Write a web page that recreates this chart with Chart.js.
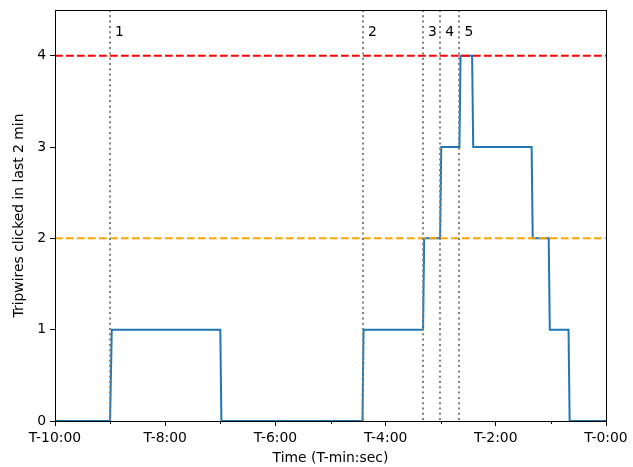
<!DOCTYPE html>
<html>
<head>
<meta charset="utf-8">
<script src="https://cdn.jsdelivr.net/npm/chart.js@4"></script>
<style>
  html, body { margin: 0; padding: 0; background: #fff; }
  #wrap { width: 633px; height: 467px; }
</style>
</head>
<body>
<div id="wrap"><canvas id="chart" width="633" height="467"></canvas></div>
<script>
// --- Data (minutes before T-0) ---
const stepTimes  = [-10, -9.0, -8.97, -7.0, -6.98, -4.42, -4.40, -3.32, -3.30, -3.01, -2.99, -2.66, -2.64, -2.43, -2.41, -1.35, -1.33, -1.04, -1.02, -0.68, -0.66, 0];
const stepValues = [0, 0, 1, 1, 0, 0, 1, 1, 2, 2, 3, 3, 4, 4, 3, 3, 2, 2, 1, 1, 0, 0];

const eventTimes  = [-9.0, -4.41, -3.32, -3.01, -2.66];
const eventLabels = ['1', '2', '3', '4', '5'];

const thresholdHigh = 4;
const thresholdLow = 2;

const xMajorTicks = [-10, -8, -6, -4, -2, 0];
const xMinorTicks = [-9, -7, -5, -3, -1];
const yTicks = [0, 1, 2, 3, 4];

const fmtTime = v => 'T-' + Math.abs(v) + ':00';
const FONT = 'DejaVu Sans';

// dotted event lines, their numbers, minor ticks and the top/right frame
const extrasPlugin = {
    id: 'extras',
    afterDatasetsDraw(chart) {
        const { ctx, chartArea: a, scales: { x, y } } = chart;
        ctx.save();
        ctx.strokeStyle = 'gray';
        ctx.lineWidth = 2;
        ctx.setLineDash([2, 3.3]);
        eventTimes.forEach(t => {
            const px = Math.round(x.getPixelForValue(t));
            ctx.beginPath();
            ctx.moveTo(px, a.top);
            ctx.lineTo(px, a.bottom);
            ctx.stroke();
        });
        ctx.setLineDash([]);
        ctx.fillStyle = '#000';
        ctx.font = '13.9px ' + FONT;
        ctx.textBaseline = 'middle';
        ctx.textAlign = 'left';
        eventTimes.forEach((t, i) => {
            ctx.fillText(eventLabels[i], x.getPixelForValue(t) + 5, y.getPixelForValue(4.25));
        });
        ctx.restore();
    },
    afterDraw(chart) {
        const { ctx, chartArea: a, scales: { x } } = chart;
        ctx.save();
        ctx.strokeStyle = '#000';
        ctx.lineWidth = 1;
        xMinorTicks.forEach(t => {
            const px = Math.round(x.getPixelForValue(t)) + 0.5;
            ctx.beginPath();
            ctx.moveTo(px, a.bottom);
            ctx.lineTo(px, a.bottom + 3);
            ctx.stroke();
        });
        ctx.strokeRect(Math.round(a.left) + 0.5, Math.round(a.top) + 0.5,
            Math.round(a.right - a.left), Math.round(a.bottom - a.top));
        ctx.restore();
    }
};

new Chart(document.getElementById('chart'), {
    type: 'line',
    data: {
        datasets: [
            {
                data: [{ x: -10, y: thresholdHigh }, { x: 0, y: thresholdHigh }],
                borderColor: 'red',
                borderWidth: 2,
                borderDash: [7.7, 3.3],
                pointRadius: 0,
            },
            {
                data: [{ x: -10, y: thresholdLow }, { x: 0, y: thresholdLow }],
                borderColor: 'orange',
                borderWidth: 2,
                borderDash: [7.7, 3.3],
                pointRadius: 0,
            },
            {
                data: stepTimes.map((t, i) => ({ x: t, y: stepValues[i] })),
                borderColor: '#1f77b4',
                borderWidth: 2,
                pointRadius: 0,
                tension: 0,
            }
        ]
    },
    options: {
        responsive: false,
        animation: false,
        layout: { padding: { top: 10, right: 27, left: 11, bottom: 0 } },
        plugins: {
            legend: { display: false },
            tooltip: { enabled: false }
        },
        scales: {
            x: {
                type: 'linear',
                min: -10,
                max: 0,
                afterBuildTicks: s => { s.ticks = xMajorTicks.map(v => ({ value: v })); },
                afterFit: s => { s.height = 46; },
                ticks: {
                    callback: v => fmtTime(v),
                    color: '#000',
                    font: { family: FONT, size: 13.9 },
                    padding: 4,
                    maxRotation: 0,
                    autoSkip: false
                },
                grid: { drawOnChartArea: false, color: '#000', tickLength: 5 },
                border: { color: '#000' },
                title: {
                    display: true,
                    text: 'Time (T-min:sec)',
                    color: '#000',
                    font: { family: FONT, size: 13.9 },
                    padding: { top: 2, bottom: 0 }
                }
            },
            y: {
                min: 0,
                max: 4.5,
                afterBuildTicks: s => { s.ticks = yTicks.map(v => ({ value: v })); },
                afterFit: s => { s.width = 44; s.paddingTop = 0; s.paddingBottom = 0; },
                ticks: {
                    color: '#000',
                    font: { family: FONT, size: 13.9 },
                    padding: 4
                },
                grid: { drawOnChartArea: false, color: '#000', tickLength: 5 },
                border: { color: '#000' },
                title: {
                    display: true,
                    text: 'Tripwires clicked in last 2 min',
                    color: '#000',
                    font: { family: FONT, size: 13.9 },
                    padding: { top: 0, bottom: 4 }
                }
            }
        }
    },
    plugins: [extrasPlugin]
});
</script>
</body>
</html>
